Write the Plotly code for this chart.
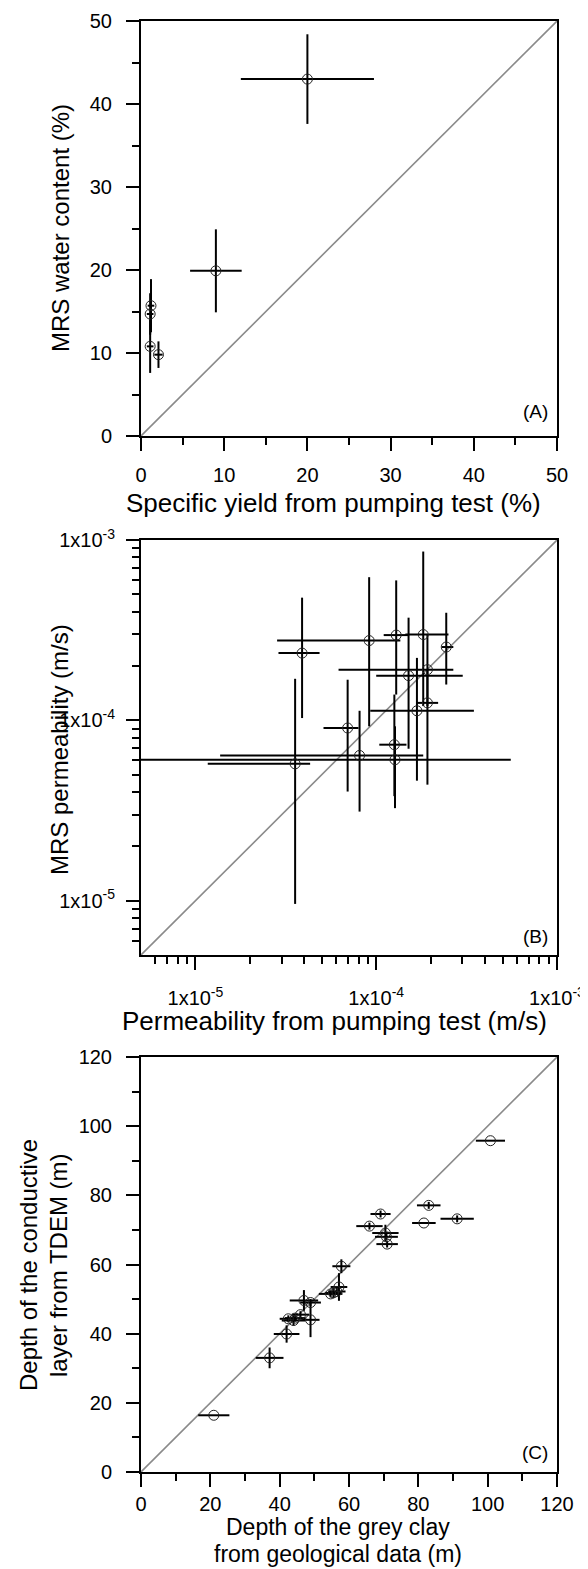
import math
import plotly.graph_objects as go

# ---------------- Panel A data ----------------
a_x = [20.0, 9.0, 1.2, 1.1, 1.1, 2.1]
a_y = [43.0, 19.9, 15.7, 14.7, 10.8, 9.8]
a_xerr = [8.0, 3.1, 0.4, 0.4, 0.4, 0.5]
a_yerr = [5.4, 5.0, 3.2, 2.5, 3.2, 1.6]
a_range = [0, 50]

# ---------------- Panel B data ----------------
b_x = [3.89e-5, 9.14e-5, 1.29e-4, 1.82e-4, 2.44e-4, 1.51e-4, 1.92e-4,
       1.68e-4, 1.92e-4, 6.95e-5, 1.26e-4, 1.27e-4, 8.09e-5, 3.56e-5]
b_x_lo = [2.88e-5, 2.83e-5, 1.10e-4, 1.45e-4, 2.31e-4, 1.00e-4, 6.19e-5,
          9.27e-5, 1.68e-4, 5.11e-5, 1.04e-4, 1.0e-6, 1.37e-5, 1.17e-5]
b_x_hi = [4.86e-5, 1.36e-4, 1.50e-4, 2.51e-4, 2.67e-4, 3.01e-4, 2.67e-4,
          3.47e-4, 2.20e-4, 7.98e-5, 1.47e-4, 5.55e-4, 1.82e-4, 4.31e-5]
b_y = [2.36e-4, 2.77e-4, 2.97e-4, 2.99e-4, 2.55e-4, 1.77e-4, 1.91e-4,
       1.13e-4, 1.25e-4, 9.07e-5, 7.33e-5, 6.05e-5, 6.39e-5, 5.74e-5]
b_y_lo = [1.03e-4, 9.27e-5, 1.39e-4, 1.20e-4, 1.58e-4, 6.96e-5, 1.20e-4,
          4.63e-5, 4.40e-5, 4.03e-5, 3.80e-5, 3.26e-5, 3.12e-5, 9.6e-6]
b_y_hi = [4.79e-4, 6.22e-4, 5.97e-4, 8.63e-4, 3.95e-4, 3.71e-4, 2.99e-4,
          2.22e-4, 1.90e-4, 1.68e-4, 1.39e-4, 9.27e-5, 1.13e-4, 1.70e-4]
b_range = [5e-6, 1e-3]
b_tickvals = [1e-5, 1e-4, 1e-3]
b_ticktext = ["1x10<sup>-5</sup>", "1x10<sup>-4</sup>", "1x10<sup>-3</sup>"]

# ---------------- Panel C data ----------------
c_x = [21.0, 37.1, 42.0, 42.5, 44.0, 44.5, 46.0, 48.9, 47.0, 48.9, 54.7, 55.5,
       56.5, 57.1, 57.8, 65.9, 69.1, 70.5, 70.8, 71.0, 81.6, 83.0, 91.2, 100.8]
c_y = [16.4, 33.0, 39.9, 44.3, 43.8, 44.5, 45.5, 44.0, 49.6, 49.0, 51.5, 51.8,
       52.2, 53.5, 59.5, 71.1, 74.6, 69.1, 68.0, 65.9, 72.0, 77.1, 73.2, 95.8]
c_xerr = [4.5, 4.0, 3.7, 2.5, 3.4, 3.0, 2.5, 2.6, 4.1, 3.0, 3.4, 2.5,
          2.5, 2.4, 2.6, 3.8, 2.9, 3.8, 3.3, 3.1, 3.4, 3.4, 4.8, 4.2]
c_yerr = [0.0, 3.0, 2.5, 1.0, 1.5, 1.0, 1.0, 5.0, 3.0, 1.0, 1.0, 1.5,
          1.0, 4.0, 2.0, 1.0, 1.0, 2.4, 1.0, 1.0, 0.0, 1.0, 1.0, 0.0]
c_range = [0, 120]

# ---------------- Layout geometry ----------------
# The page body has an 8px default margin; work in page pixels and convert.
OFF = 8
W, H = 588 - OFF, 1569 - OFF
P_LEFT, P_RIGHT, P_TOP, P_BOT = 141, 557, 21, 1472      # page pixels of the plotting area
ML = P_LEFT - OFF
MT = P_TOP - OFF
MR = W - (P_RIGHT - OFF)
MB = H - (P_BOT - OFF)
PH = P_BOT - P_TOP
PW = P_RIGHT - P_LEFT


def py2paper(py):
    return (P_BOT - py) / PH


def px2paper(px):
    return (px - P_LEFT) / PW


FONT = "Liberation Sans, Arial, sans-serif"
ERR_W = 2
MK = dict(symbol="circle-open", size=10, color="#222", line=dict(width=1, color="#222"))

fig = go.Figure()

# Panel A
fig.add_trace(go.Scatter(x=a_range, y=a_range, mode="lines",
                         line=dict(color="#8a8a8a", width=1.6),
                         xaxis="x", yaxis="y", showlegend=False, hoverinfo="skip"))
fig.add_trace(go.Scatter(x=a_x, y=a_y, mode="markers", marker=MK,
                         error_x=dict(type="data", array=a_xerr, color="black", thickness=ERR_W, width=0),
                         error_y=dict(type="data", array=a_yerr, color="black", thickness=ERR_W, width=0),
                         xaxis="x", yaxis="y", showlegend=False))

# Panel B
fig.add_trace(go.Scatter(x=b_range, y=b_range, mode="lines",
                         line=dict(color="#8a8a8a", width=1.6),
                         xaxis="x2", yaxis="y2", showlegend=False, hoverinfo="skip"))
fig.add_trace(go.Scatter(x=b_x, y=b_y, mode="markers", marker=MK,
                         error_x=dict(type="data",
                                      array=[h - v for h, v in zip(b_x_hi, b_x)],
                                      arrayminus=[v - l for v, l in zip(b_x, b_x_lo)],
                                      color="black", thickness=ERR_W, width=0),
                         error_y=dict(type="data",
                                      array=[h - v for h, v in zip(b_y_hi, b_y)],
                                      arrayminus=[v - l for v, l in zip(b_y, b_y_lo)],
                                      color="black", thickness=ERR_W, width=0),
                         xaxis="x2", yaxis="y2", showlegend=False))

# Panel C
fig.add_trace(go.Scatter(x=c_range, y=c_range, mode="lines",
                         line=dict(color="#8a8a8a", width=1.6),
                         xaxis="x3", yaxis="y3", showlegend=False, hoverinfo="skip"))
fig.add_trace(go.Scatter(x=c_x, y=c_y, mode="markers", marker=MK,
                         error_x=dict(type="data", array=c_xerr, color="black", thickness=ERR_W, width=0),
                         error_y=dict(type="data", array=c_yerr, color="black", thickness=ERR_W, width=0),
                         xaxis="x3", yaxis="y3", showlegend=False))

TICKFONT = dict(family=FONT, size=20, color="black")


def lin_axis(rng, dtick, minor_dtick, domain, anchor, standoff):
    return dict(range=rng, domain=domain, anchor=anchor, showline=True, mirror=True,
                automargin=False,
                linecolor="black", linewidth=2, ticks="outside", ticklen=13, tickwidth=2,
                tickcolor="black", dtick=dtick, tick0=0, showgrid=False, zeroline=False,
                tickfont=TICKFONT, ticklabelstandoff=standoff,
                minor=dict(ticks="outside", ticklen=7, tickwidth=2, tickcolor="black",
                           dtick=minor_dtick, tick0=0, showgrid=False))


def log_minor():
    vals = []
    for e in (1e-6, 1e-5, 1e-4):
        for m in range(2, 10):
            v = m * e
            if b_range[0] <= v <= b_range[1]:
                vals.append(v)
    return vals


def log_axis(domain, anchor, standoff):
    return dict(type="log", range=[math.log10(b_range[0]), math.log10(b_range[1])],
                domain=domain, anchor=anchor, showline=True, mirror=True, automargin=False,
                linecolor="black", linewidth=2, ticks="outside", ticklen=13, tickwidth=2,
                tickcolor="black", tickmode="array", tickvals=b_tickvals, ticktext=b_ticktext,
                showgrid=False, zeroline=False, tickfont=TICKFONT, ticklabelstandoff=standoff,
                minor=dict(ticks="outside", ticklen=7, tickwidth=2, tickcolor="black",
                           tickmode="array", tickvals=log_minor(), showgrid=False))


dA = [py2paper(436), py2paper(21)]
dB = [py2paper(955), py2paper(540)]
dC = [py2paper(1472), py2paper(1057)]

fig.update_layout(
    width=W, height=H,
    margin=dict(l=ML, r=MR, t=MT, b=MB, pad=0, autoexpand=False),
    paper_bgcolor="white", plot_bgcolor="white",
    font=dict(family=FONT, color="black"),
    xaxis=lin_axis(a_range, 10, 5, [0, 1], "y", 7),
    yaxis=lin_axis(a_range, 10, 5, dA, "x", 10),
    xaxis2=log_axis([0, 1], "y2", 11),
    yaxis2=log_axis(dB, "x2", 7),
    xaxis3=lin_axis(c_range, 20, 10, [0, 1], "y3", 0),
    yaxis3=lin_axis(c_range, 20, 10, dC, "x3", 10),
)

XF = dict(family=FONT, size=26, color="black")
CF = dict(family=FONT, size=23, color="black")
YF = dict(family=FONT, size=24, color="black")
anns = [
    ("Specific yield from pumping test (%)", 333, 503, 0, XF),
    ("MRS water content (%)", 60, 228, -90, YF),
    ("Permeability from pumping test (m/s)", 334, 1021, 0, XF),
    ("MRS permeability (m/s)", 60, 750, -90, YF),
    ("Depth of the grey clay", 338, 1527, 0, CF),
    ("from geological data (m)", 338, 1554, 0, CF),
    ("Depth of the conductive", 28, 1265, -90, YF),
    ("layer from TDEM (m)", 58, 1265, -90, YF),
]
for text, px, py, ang, f in anns:
    fig.add_annotation(text=text, x=px2paper(px), y=py2paper(py), xref="paper", yref="paper",
                       xanchor="center", yanchor="middle", showarrow=False, textangle=ang, font=f)

PF = dict(family=FONT, size=19, color="black")
for lab, xr, yr, ypos in [("(A)", "x domain", "y domain", 0.06),
                          ("(B)", "x2 domain", "y2 domain", 0.045),
                          ("(C)", "x3 domain", "y3 domain", 0.048)]:
    fig.add_annotation(text=lab, x=0.982, y=ypos, xref=xr, yref=yr, xanchor="right",
                       yanchor="middle", showarrow=False, font=PF)

fig.write_html("out.html")
